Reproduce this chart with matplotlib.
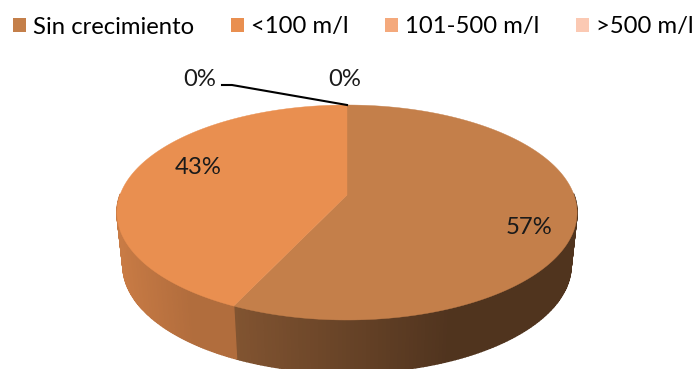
import numpy as np
import matplotlib
matplotlib.use("Agg")
import matplotlib.pyplot as plt
from matplotlib.patches import Patch

categorias = ["Sin crecimiento", "<100 m/l", "101-500 m/l", ">500 m/l"]
valores = [57, 43, 0, 0]
colores = ["#C47F4A", "#E98F50", "#F4A97C", "#FBC9B3"]

W, H = 694, 369
# geometria del pastis 3D (pixels)
CX, CY = 347, 195
RX, RY, PERSP = 227, 104.65, 0.1628
FONS = 53
ESCALA_BASE = 0.974


def projecta(ang):
    # perspectiva del disc: el centre queda per sobre del centre de l'el·lipse
    x, y = np.cos(ang), np.sin(ang)
    d = 1 + PERSP * y
    return CX + RX * x / d, CY - RY * y / d


def to_rgb(c):
    return np.array(matplotlib.colors.to_rgb(c))


fig = plt.figure(figsize=(W / 100, H / 100), dpi=100)
ax = fig.add_axes([0, 0, 1, 1])
ax.set_xlim(0, W)
ax.set_ylim(H, 0)
ax.axis("off")
plt.rcParams["font.family"] = ["Lato", "DejaVu Sans"]

total = sum(valores)
angle = np.pi / 2
llesques = []
for v, c in zip(valores, colores):
    pas = 2 * np.pi * v / total
    llesques.append((angle, angle - pas, c))
    angle -= pas

# cara lateral, a tires per fer el degradat
ombres = {colores[0]: (0.66, 0.41), colores[1]: (0.86, 0.76)}
for a0, a1, c in llesques:
    if a0 == a1:
        continue
    angs = np.linspace(a0, a1, 240)
    angs = angs[np.sin(angs) < 0.02]
    if len(angs) < 2:
        continue
    xs, ys = projecta(angs)
    xb = CX + (xs - CX) * ESCALA_BASE
    yb = ys + FONS
    xmin, xmax = xs.min(), xs.max()
    for i in range(len(angs) - 1):
        t = (0.5 * (xs[i] + xs[i + 1]) - xmin) / (xmax - xmin)
        s0, s1 = ombres[c]
        s = s0 + (s1 - s0) * min(t * 1.6, 1)
        ax.fill([xs[i], xs[i + 1], xb[i + 1], xb[i]],
                [ys[i], ys[i + 1], yb[i + 1], yb[i]],
                color=to_rgb(c) * s, lw=1.0, zorder=2)

# cara superior
for a0, a1, c in llesques:
    if a0 == a1:
        continue
    xs, ys = projecta(np.linspace(a0, a1, 200))
    ax.fill(np.r_[CX, xs], np.r_[CY, ys], color=c, lw=0.3, zorder=3)

# etiquetes
mides = 17.2
ax.text(529, 227, f"{valores[0]}%", ha="center", va="center", fontsize=mides, color="#1a1a1a", zorder=5)
ax.text(198, 167, f"{valores[1]}%", ha="center", va="center", fontsize=mides, color="#1a1a1a", zorder=5)
ax.text(200, 79, f"{valores[2]}%", ha="center", va="center", fontsize=mides, color="#1a1a1a", zorder=5)
ax.text(345, 80, f"{valores[3]}%", ha="center", va="center", fontsize=mides, color="#1a1a1a", zorder=5)
ax.plot([222, 232, 347], [85, 85, 105], color="black", lw=1.5, zorder=4)

mans = [Patch(facecolor=c, edgecolor="none") for c in colores]
ax.legend(mans, categorias, ncol=4, frameon=False, fontsize=mides,
          loc="center left", bbox_to_anchor=(13 / W, 1 - 27 / H),
          handlelength=0.55, handleheight=0.55, handletextpad=0.3,
          columnspacing=1.52, borderpad=0, borderaxespad=0)

fig.savefig("out.png", dpi=100)
